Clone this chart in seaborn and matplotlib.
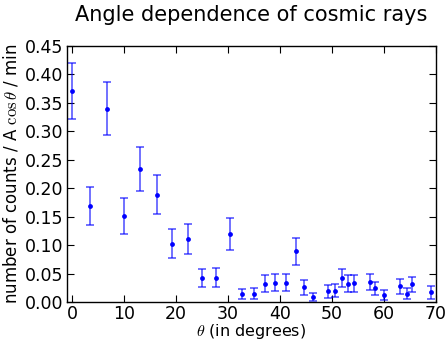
import numpy as np
import pandas as pd
import matplotlib
matplotlib.use("Agg")
import matplotlib.pyplot as plt
import seaborn as sns

# angle (degrees), rate and error
theta = [0.0, 3.4, 6.7, 9.9, 13.1, 16.3, 19.3, 22.2, 25.0, 27.6, 30.3, 32.6,
         35.0, 37.1, 39.1, 41.2, 43.0, 44.7, 46.3, 49.3, 50.6, 51.9, 53.1, 54.3,
         57.4, 58.3, 60.1, 63.1, 64.4, 65.5, 69.0]
rate = [0.371, 0.169, 0.340, 0.151, 0.234, 0.189, 0.103, 0.111, 0.042, 0.043,
        0.120, 0.014, 0.015, 0.032, 0.034, 0.034, 0.089, 0.026, 0.009, 0.019,
        0.020, 0.042, 0.032, 0.033, 0.036, 0.024, 0.012, 0.028, 0.015, 0.031,
        0.017]
err = [0.050, 0.033, 0.047, 0.032, 0.039, 0.035, 0.026, 0.027, 0.016, 0.017,
       0.028, 0.009, 0.010, 0.015, 0.015, 0.015, 0.024, 0.013, 0.007, 0.011,
       0.011, 0.016, 0.015, 0.015, 0.014, 0.012, 0.009, 0.013, 0.009, 0.014,
       0.011]

df = pd.DataFrame({'theta': theta, 'rate': rate, 'err': err})

sns.set_style('ticks')
plt.rcParams['font.family'] = ['DejaVu Sans']
plt.rcParams['mathtext.fontset'] = 'cm'
plt.rcParams['text.color'] = 'black'
plt.rcParams['axes.labelcolor'] = 'black'
plt.rcParams['xtick.color'] = 'black'
plt.rcParams['ytick.color'] = 'black'
plt.rcParams['axes.edgecolor'] = 'black'

fig = plt.figure(figsize=(4.47, 3.41), dpi=100)
ax = fig.add_axes([0.150, 0.114, 0.825, 0.751])

ax.errorbar(df['theta'], df['rate'], yerr=df['err'], fmt='none',
            ecolor='blue', alpha=0.65, elinewidth=1.2, capsize=3, capthick=1.2)
sns.scatterplot(data=df, x='theta', y='rate', color='blue', s=12,
                edgecolor='blue', linewidth=0, ax=ax, zorder=3)

ax.set_xlim(-1, 70)
ax.set_ylim(0, 0.45)
ax.set_xticks(np.arange(0, 71, 10))
ax.set_yticks(np.arange(0, 0.451, 0.05))
ax.set_yticklabels([f'{v:.2f}' for v in np.arange(0, 0.451, 0.05)])
ax.tick_params(direction='in', top=True, right=True, labelsize=12.5, length=5, pad=3)
ax.tick_params(axis='x', pad=2)
for s in ax.spines.values():
    s.set_linewidth(1.0)

ax.set_xlabel(r'$\theta$ (in degrees)', fontsize=11.5, labelpad=-1)
ax.set_ylabel(r'number of counts / A $\cos\theta$ / min', fontsize=12, labelpad=3)
ax.set_title('Angle dependence of cosmic rays', fontsize=15, pad=18)

fig.savefig('out.png', dpi=100)
